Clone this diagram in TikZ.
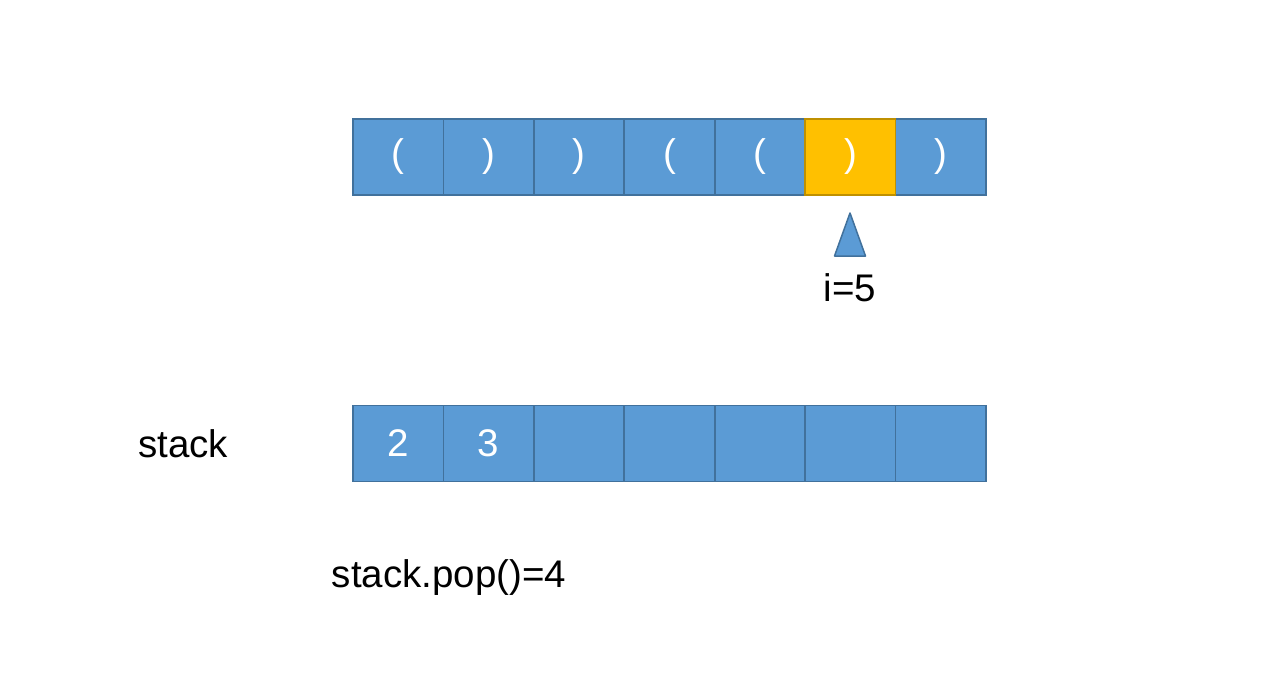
\documentclass[tikz,border=0pt]{standalone}
\usepackage{fontspec}
\setmainfont{Liberation Sans}
\definecolor{cellblue}{HTML}{5B9BD5}
\definecolor{cellline}{HTML}{41719C}
\definecolor{cellorange}{HTML}{FFC000}
\definecolor{orangeline}{HTML}{BF9000}
\tikzset{
  cell/.style={draw=cellline, fill=cellblue, line width=1.7pt, minimum width=90.43pt,
    minimum height=76pt, inner sep=0pt, text=white, font=\fontsize{38.5}{46}\selectfont},
  hot/.style={cell, draw=orangeline, fill=cellorange},
  label/.style={font=\fontsize{38.5}{46}\selectfont}
}
\begin{document}
\begin{tikzpicture}[x=1pt, y=-1pt]
        \useasboundingbox (0,0) rectangle (1268,680);

        % input string
        \node[cell] (s0) at (398.2, 157) {(};
        \node[cell] (s1) at (488.6, 157) {)};
        \node[cell] (s2) at (579.1, 157) {)};
        \node[cell] (s3) at (669.5, 157) {(};
        \node[cell] (s4) at (759.9, 157) {(};
        \node[cell] (s6) at (940.8, 157) {)};
        \node[hot]  (s5) at (850.4, 157) {)};

        % pointer i
        \filldraw[draw=cellline, fill=cellblue, line width=1.5pt, line join=round]
            (850, 213) -- (865.5, 256) -- (834.5, 256) -- cycle;
        \node[label] (i) at (850, 288) {i=5};

        % stack
        \node[label] (stk) at (183, 444) {stack};
        \node[cell] (k0) at (398.2, 443.5) {2};
        \node[cell] (k1) at (488.6, 443.5) {3};
        \node[cell] (k2) at (579.1, 443.5) {};
        \node[cell] (k3) at (669.5, 443.5) {};
        \node[cell] (k4) at (759.9, 443.5) {};
        \node[cell] (k5) at (850.4, 443.5) {};
        \node[cell] (k6) at (940.8, 443.5) {};

        \node[label] (pop) at (449, 578) {stack.pop()=4};

    \end{tikzpicture}
\end{document}
